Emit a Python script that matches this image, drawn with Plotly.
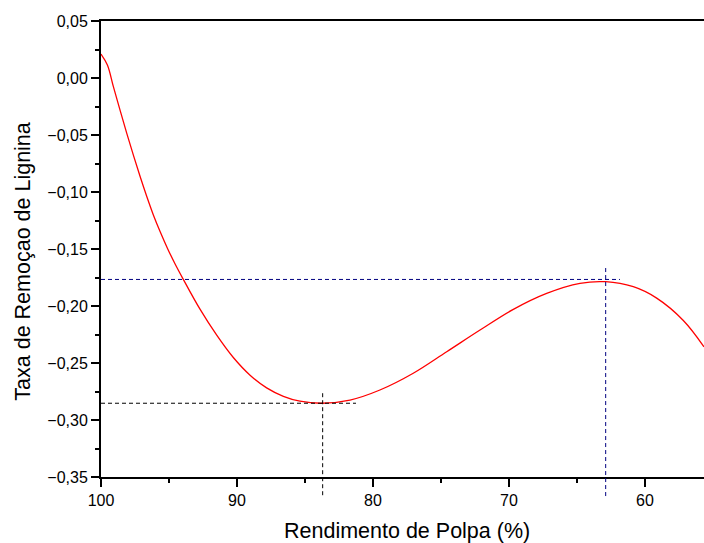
import plotly.graph_objects as go

# Curve data
rendimento = [100.0, 99.53, 99.09, 98.60, 98.11, 97.62, 97.13, 96.64, 96.15, 95.64,
              95.10, 94.56, 93.95, 92.72, 91.49, 90.27, 89.04, 87.82, 86.59, 85.37,
              83.77, 81.69, 79.49, 77.04, 74.58, 72.13, 69.68, 67.23, 64.78, 62.89,
              60.86, 59.14, 57.18, 55.66]
taxa = [0.021, 0.0114, -0.0076, -0.0282, -0.0483, -0.0677, -0.0862, -0.1037, -0.1201, -0.1351,
        -0.1497, -0.1629, -0.1766, -0.2028, -0.2256, -0.2452, -0.2607, -0.2718, -0.2792, -0.2835,
        -0.2853, -0.2825, -0.2737, -0.2590, -0.2401, -0.2211, -0.2029, -0.1889, -0.1801, -0.1787,
        -0.1831, -0.1931, -0.2127, -0.2358]

# Reference (dashed) lines
min_x, min_y = 83.7, -0.2853
max_x, max_y = 62.89, -0.1767
min_hline_end = 81.25
max_hline_end = 61.84
min_vline_top = -0.2765
max_vline_top = -0.1667

x_range = [100, 55.66]
y_range = [-0.35, 0.05]
vline_bottom_paper = -0.046

font_family = "Liberation Sans, Arial, sans-serif"

fig = go.Figure()
fig.add_trace(go.Scatter(x=rendimento, y=taxa, mode="lines",
                         line=dict(color="#ff0000", width=1.3, shape="spline", smoothing=1.0),
                         showlegend=False, hoverinfo="skip"))

def to_paper(v):
    return (v - y_range[0]) / (y_range[1] - y_range[0])

dash = "4px,3px"
fig.add_shape(type="line", xref="x", yref="y", x0=100, x1=min_hline_end, y0=min_y, y1=min_y,
              line=dict(color="black", width=1, dash=dash))
fig.add_shape(type="line", xref="x", yref="paper", x0=min_x, x1=min_x,
              y0=to_paper(min_vline_top), y1=vline_bottom_paper,
              line=dict(color="black", width=1, dash=dash))
fig.add_shape(type="line", xref="x", yref="y", x0=100, x1=max_hline_end, y0=max_y, y1=max_y,
              line=dict(color="#000080", width=1, dash=dash))
fig.add_shape(type="line", xref="x", yref="paper", x0=max_x, x1=max_x,
              y0=to_paper(max_vline_top), y1=vline_bottom_paper,
              line=dict(color="#000080", width=1, dash=dash))

# Axis titles
fig.add_annotation(text="Rendimento de Polpa (%)", xref="paper", yref="paper",
                   x=0.508, y=-0.118, xanchor="center", yanchor="middle",
                   showarrow=False, font=dict(size=21.5))
fig.add_annotation(text="Taxa de Remoçao de Lignina", xref="paper", yref="paper",
                   x=-0.129, y=0.4726, xanchor="center", yanchor="middle", textangle=-90,
                   showarrow=False, font=dict(size=21.5))

fig.update_layout(
    width=704, height=543,
    margin=dict(l=101, r=0, t=21, b=66),
    paper_bgcolor="white", plot_bgcolor="white",
    separators=",.",
    font=dict(family=font_family, color="black", size=16),
    showlegend=False,
)
fig.update_xaxes(
    range=x_range, dtick=10, tick0=0,
    showline=True, linecolor="black", linewidth=2, mirror=True,
    ticks="outside", ticklen=8, tickwidth=1.5, tickcolor="black",
    minor=dict(dtick=5, ticks="outside", ticklen=4, tickwidth=1.5, tickcolor="black"),
    showgrid=False, zeroline=False,
    tickfont=dict(size=16),
)
fig.update_yaxes(
    range=y_range, dtick=0.05, tick0=0, tickformat=".2f",
    showline=True, linecolor="black", linewidth=2,
    ticks="outside", ticklen=8, tickwidth=1.5, tickcolor="black",
    minor=dict(dtick=0.025, ticks="outside", ticklen=4, tickwidth=1.5, tickcolor="black"),
    showgrid=False, zeroline=False,
    tickfont=dict(size=16),
)

fig.write_html("out.html")
